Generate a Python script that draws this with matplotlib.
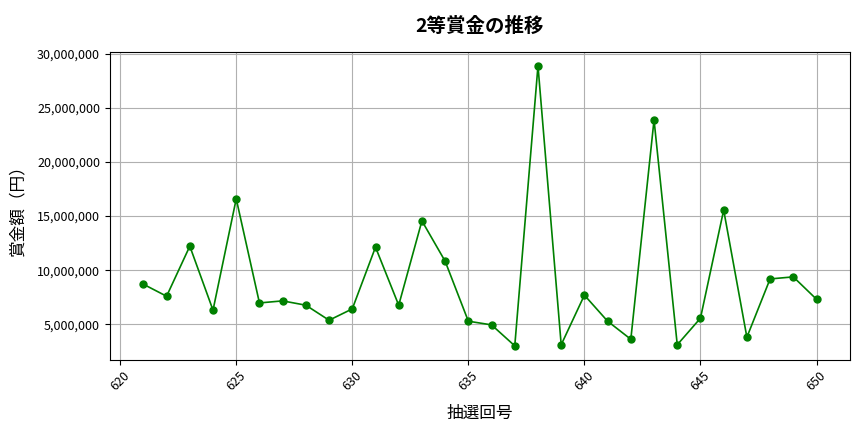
import matplotlib
matplotlib.use("Agg")
import matplotlib.pyplot as plt
from matplotlib.ticker import FuncFormatter

plt.rcParams['font.family'] = ['Noto Sans CJK JP', 'DejaVu Sans']

# 抽選回号と2等賞金（円）
kaigou = list(range(621, 651))
shoukin = [8700000, 7590000, 12220000, 6300000, 16600000, 6970000, 7160000, 6760000,
           5370000, 6420000, 12130000, 6760000, 14560000, 10830000, 5280000, 4940000,
           3000000, 28900000, 3100000, 7690000, 5280000, 3610000, 23900000, 3100000,
           5560000, 15560000, 3800000, 9190000, 9380000, 7310000]

fig, ax = plt.subplots(figsize=(8.64, 4.32), dpi=100)
ax.plot(kaigou, shoukin, color="green", marker="o", markersize=5, linewidth=1.2)

ax.set_title("2等賞金の推移", fontsize=14, fontweight="bold", pad=14)
ax.set_xlabel("抽選回号", fontsize=12, labelpad=8)
ax.set_ylabel("賞金額（円）", fontsize=12, labelpad=8)
ax.yaxis.set_major_formatter(FuncFormatter(lambda v, p: f"{int(v):,}"))
ax.tick_params(axis="x", rotation=45, labelsize=9)
ax.tick_params(axis="y", labelsize=9)
ax.grid(True)

plt.subplots_adjust(left=0.127, right=0.984, top=0.880, bottom=0.167)
plt.savefig("out.png")
